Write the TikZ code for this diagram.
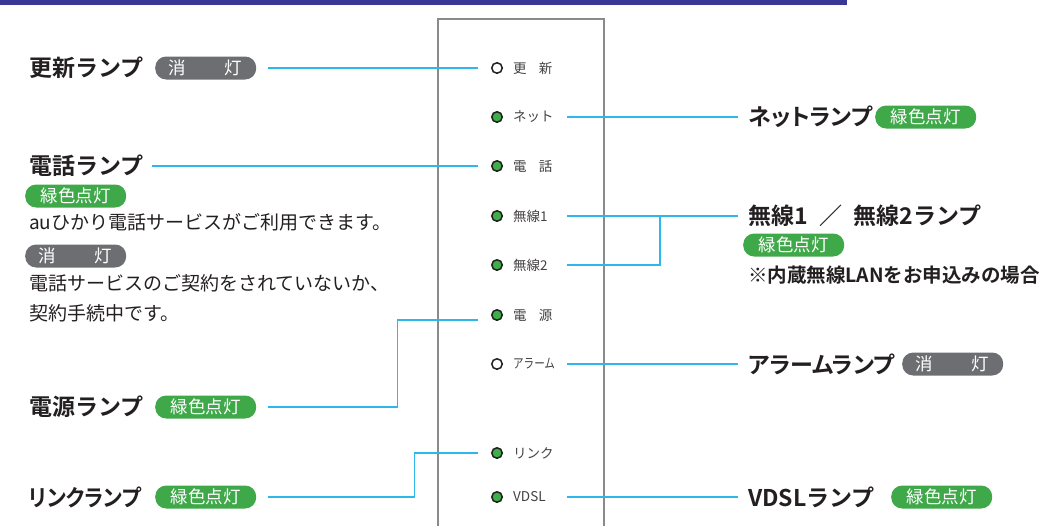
\documentclass[tikz,border=0pt]{standalone}
\usepackage{fontspec}
\setmainfont{Noto Sans CJK JP}[BoldFont={Noto Sans CJK JP Bold}]
\newfontfamily\jpprop{Noto Sans CJK JP}[BoldFont={Noto Sans CJK JP Bold}, RawFeature=+palt]
\usetikzlibrary{positioning}

\definecolor{wireblue}{HTML}{2DB7EA}
\definecolor{ledgreen}{HTML}{3DAE49}
\definecolor{badgegreen}{HTML}{3FA94A}
\definecolor{badgegray}{HTML}{6D6E71}
\definecolor{inkdark}{HTML}{231F20}
\definecolor{panelgray}{HTML}{8A8A8A}
\definecolor{barblue}{HTML}{383896}

\newcommand{\unlit}{消\hspace{2.2em}灯}

\tikzset{
  wire/.style={draw=wireblue, line width=1.3pt},
  lampon/.style={circle, draw=inkdark, line width=1.5pt, fill=ledgreen, minimum size=10.5pt, inner sep=0pt},
  lampoff/.style={lampon, fill=white},
  tag/.style={anchor=west, inner sep=0pt, text=inkdark!85, font=\fontsize{13.5}{13.5}\selectfont},
  title/.style={anchor=west, inner sep=0pt, text=inkdark, font=\bfseries\fontsize{23}{23}\selectfont},
  proptitle/.style={title, font=\jpprop\bfseries\fontsize{23}{23}\selectfont},
  note/.style={anchor=west, inner sep=0pt, text=inkdark, font=\fontsize{19}{19}\selectfont},
  badge/.style={anchor=west, rounded corners=11pt, minimum width=101pt, minimum height=23pt,
                inner sep=0pt, text=white, font=\fontsize{17.5}{17.5}\selectfont},
  litbadge/.style={badge, fill=badgegreen},
  offbadge/.style={badge, fill=badgegray}
}

\begin{document}
\begin{tikzpicture}[x=1pt, y=-1pt]
  \useasboundingbox (0,0) rectangle (1043,525);
  \fill[barblue] (0,0) rectangle (847,5);
  \draw[panelgray, line width=1.3pt] (438,530) |- (604,19) -- (604,530);

  % lamps on the front panel
  \node[lampoff] (l1) at (497,68)  {};
  \node[lampon]  (l2) at (497,117) {};
  \node[lampon]  (l3) at (497,166) {};
  \node[lampon]  (l4) at (497,216) {};
  \node[lampon]  (l5) at (497,265) {};
  \node[lampon]  (l6) at (497,315) {};
  \node[lampoff] (l7) at (497,364) {};
  \node[lampon]  (l8) at (497,453) {};
  \node[lampon]  (l9) at (497,497) {};

  \node[tag] (t1) at (513,68)  {更\hspace{0.9em}新};
  \node[tag] (t2) at (513,117) {ネット};
  \node[tag] (t3) at (513,166) {電\hspace{0.9em}話};
  \node[tag] (t4) at (513,216) {無線1};
  \node[tag] (t5) at (513,265) {無線2};
  \node[tag] (t6) at (513,315) {電\hspace{0.9em}源};
  \node[tag] (t7) at (513,364) {\scalebox{0.78}[1]{アラーム}};
  \node[tag] (t8) at (513,453) {リンク};
  \node[tag] (t9) at (513,497) {VDSL};

  % left side
  \node[title] (upd) at (29,68) {更新ランプ};
  \node[offbadge] (upd-b) at (155,68) {\unlit};
  \node[title] (tel) at (29,166) {電話ランプ};
  \node[litbadge] (tel-b1) at (25,196) {緑色点灯};
  \node[note] (tel-n1) at (29,222) {auひかり電話サービスがご利用できます。};
  \node[offbadge] (tel-b2) at (25,256) {\unlit};
  \node[note] (tel-n2) at (29,283) {電話サービスのご契約をされていないか、};
  \node[note] (tel-n3) at (29,313) {契約手続中です。};
  \node[title] (pwr) at (29,407) {電源ランプ};
  \node[litbadge] (pwr-b) at (155,407) {緑色点灯};
  \node[proptitle] (lnk) at (29,497) {\scalebox{0.9}[1]{リンクランプ}};
  \node[litbadge] (lnk-b) at (155,497) {緑色点灯};

  % right side
  \node[proptitle] (net) at (748,117) {ネットランプ};
  \node[litbadge] (net-b) at (875,117) {緑色点灯};
  \node[title] (wls) at (748,216) {無線1\hspace{0.5em}／\hspace{0.5em}無線2ランプ};
  \node[litbadge] (wls-b) at (743,245) {緑色点灯};
  \node[note, font=\bfseries\fontsize{19.5}{19.5}\selectfont] (wls-n) at (748,275) {※内蔵無線LANをお申込みの場合};
  \node[proptitle] (alm) at (748,364) {アラームランプ};
  \node[offbadge] (alm-b) at (902,364) {\unlit};
  \node[title] (vdsl) at (748,497) {VDSLランプ};
  \node[litbadge] (vdsl-b) at (891,497) {緑色点灯};

  % leader lines
  \draw[wire] ([xshift=12pt]upd-b.east) -- ([xshift=-13pt]l1.west);
  \draw[wire] ([xshift=8pt]tel.east) -- ([xshift=-13pt]l3.west);
  \draw[wire] ([xshift=12pt]pwr-b.east) -- ++(129,0) |- ([xshift=-13pt, yshift=-5pt]l6.west);
  \draw[wire] ([xshift=12pt]lnk-b.east) -- ++(146,0) |- ([xshift=-13pt]l8.west);
  \draw[wire] ([xshift=64pt]l2.east) -- ([xshift=-10pt]net.west);
  \draw[wire] ([xshift=64pt]l4.east) -- ([xshift=-10pt]wls.west);
  \draw[wire] ([xshift=64pt]l5.east) -- ++(93,0) -- ++(0,-49);
  \draw[wire] ([xshift=64pt]l7.east) -- ([xshift=-10pt]alm.west);
  \draw[wire] ([xshift=64pt]l9.east) -- ([xshift=-10pt]vdsl.west);
\end{tikzpicture}
\end{document}
